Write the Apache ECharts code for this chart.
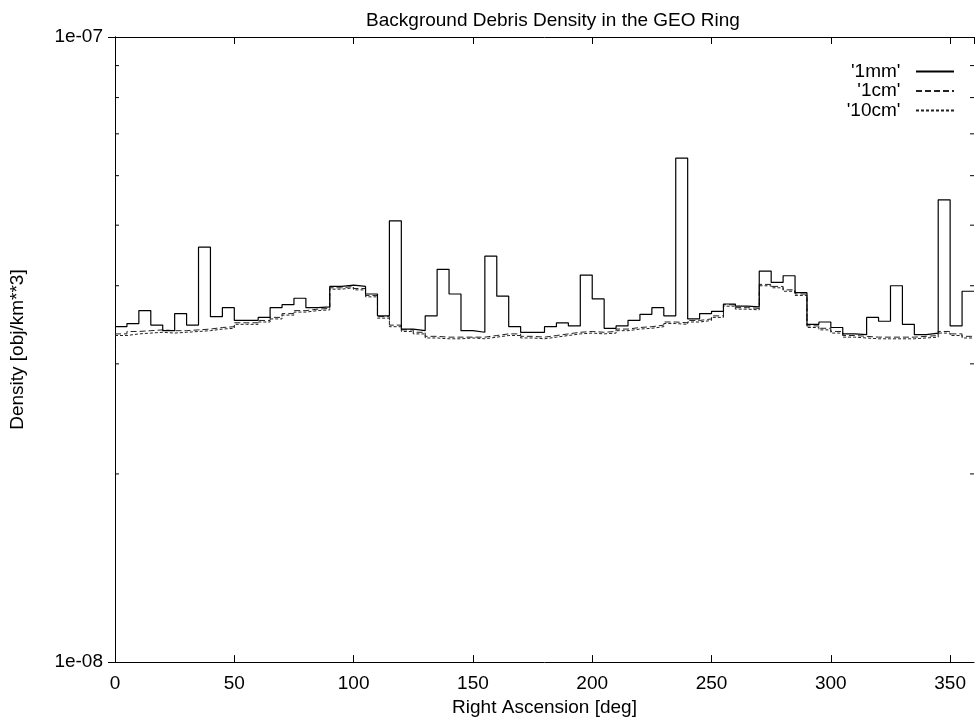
<!DOCTYPE html>
<html>
<head>
<meta charset="utf-8">
<script src="https://cdn.jsdelivr.net/npm/echarts@6/dist/echarts.min.js"></script>
<style>
  html, body { margin: 0; padding: 0; background: #fff; }
  #chart { width: 978px; height: 722px; }
</style>
</head>
<body>
<div id="chart"></div>
<script>
// bin start in deg (5 deg bins), values in units of 1e-8 obj/km^3
const binWidth = 5
const mm1 = [3.44, 3.48, 3.65, 3.46, 3.39, 3.61, 3.46, 4.61, 3.57, 3.69,
  3.52, 3.52, 3.56, 3.69, 3.73, 3.82, 3.69, 3.70, 3.99, 4.01,
  3.99, 3.88, 3.58, 5.08, 3.41, 3.39, 3.58, 4.25, 3.88, 3.39,
  3.37, 4.46, 3.85, 3.44, 3.37, 3.37, 3.44, 3.49, 3.45, 4.16,
  3.81, 3.42, 3.45, 3.52, 3.60, 3.69, 3.58, 6.40, 3.54, 3.61,
  3.64, 3.74, 3.71, 3.70, 4.22, 4.05, 4.15, 3.90, 3.47, 3.50,
  3.43, 3.35, 3.34, 3.56, 3.51, 4.00, 3.47, 3.34, 3.36, 5.49,
  3.45, 3.92]
const cm1 = [3.35, 3.38, 3.39, 3.40, 3.39, 3.39, 3.40, 3.41, 3.43, 3.44,
  3.49, 3.49, 3.52, 3.56, 3.61, 3.65, 3.67, 3.68, 3.97, 3.99,
  3.96, 3.86, 3.57, 3.46, 3.40, 3.37, 3.32, 3.31, 3.31, 3.31,
  3.31, 3.33, 3.35, 3.35, 3.32, 3.31, 3.33, 3.35, 3.37, 3.38,
  3.37, 3.38, 3.41, 3.43, 3.44, 3.46, 3.50, 3.49, 3.52, 3.54,
  3.58, 3.73, 3.69, 3.68, 4.02, 3.99, 3.94, 3.88, 3.45, 3.42,
  3.38, 3.33, 3.32, 3.31, 3.31, 3.31, 3.31, 3.32, 3.33, 3.38,
  3.35, 3.32]
const cm10 = [3.33, 3.35, 3.36, 3.37, 3.36, 3.37, 3.38, 3.39, 3.41, 3.42,
  3.47, 3.47, 3.50, 3.54, 3.59, 3.63, 3.65, 3.66, 3.95, 3.97,
  3.94, 3.84, 3.55, 3.44, 3.38, 3.35, 3.30, 3.29, 3.29, 3.30,
  3.29, 3.31, 3.33, 3.33, 3.30, 3.29, 3.31, 3.33, 3.35, 3.36,
  3.35, 3.36, 3.39, 3.41, 3.42, 3.44, 3.48, 3.47, 3.50, 3.52,
  3.56, 3.71, 3.67, 3.66, 4.00, 3.97, 3.92, 3.86, 3.43, 3.40,
  3.36, 3.31, 3.30, 3.29, 3.29, 3.29, 3.29, 3.30, 3.31, 3.36,
  3.33, 3.30]
const yLabels = {'1e-08': 1e-8, '1e-07': 1e-7}
const minorTicks = [2e-8, 3e-8, 4e-8, 5e-8, 6e-8, 7e-8, 8e-8, 9e-8]

function steps(vals) {
  let pts = vals.map((v, i) => [i * binWidth, v * 1e-8])
  pts.push([vals.length * binWidth, vals[vals.length - 1] * 1e-8])
  return pts
}

const font = 'Liberation Sans, Arial, sans-serif'
const txt = {color: '#000', fontFamily: font, fontSize: 19}

function yFmt(v) {
  for (let k in yLabels) if (Math.abs(yLabels[k] - v) / v < 1e-6) return k
  return ''
}

let chart = echarts.init(document.getElementById('chart'))
chart.setOption({
  animation: false,
  backgroundColor: '#fff',
  title: {
    text: 'Background Debris Density in the GEO Ring',
    left: 548, top: 6, textAlign: 'center',
    textStyle: {color: '#000', fontFamily: font, fontSize: 19, fontWeight: 'normal'}
  },
  legend: {
    orient: 'vertical', right: 18, top: 57, align: 'right',
    itemWidth: 38, itemHeight: 14, itemGap: 0.5,
    itemStyle: {opacity: 0},
    formatter: name => name + '  ',
    textStyle: Object.assign({lineHeight: 19}, txt),
    data: ["'1mm'", "'1cm'", "'10cm'"]
  },
  grid: {left: 114, right: 4, top: 37, bottom: 55},
  xAxis: [{
    type: 'value', min: 0, max: 360, interval: 50,
    name: 'Right Ascension [deg]', nameLocation: 'middle', nameGap: 30,
    nameTextStyle: txt,
    axisLine: {lineStyle: {color: '#000', width: 1}},
    axisTick: {inside: true, length: 7, lineStyle: {color: '#000'}},
    axisLabel: Object.assign({margin: 12, showMaxLabel: false}, txt),
    splitLine: {show: false}
  }, {
    type: 'value', position: 'top', min: 0, max: 360, interval: 50,
    axisLine: {lineStyle: {color: '#000', width: 1}},
    axisTick: {inside: true, length: 7, lineStyle: {color: '#000'}},
    axisLabel: {show: false}, splitLine: {show: false}
  }],
  yAxis: [{
    type: 'log', logBase: 10, min: 1e-8, max: 1e-7,
    name: 'Density [obj/km**3]', nameLocation: 'middle', nameGap: 88,
    nameTextStyle: txt,
    axisLine: {lineStyle: {color: '#000', width: 1}},
    axisTick: {inside: true, length: 7, lineStyle: {color: '#000'}},
    axisLabel: Object.assign({margin: 12, formatter: yFmt}, txt),
    splitLine: {show: false}
  }, {
    type: 'log', logBase: 10, min: 1e-8, max: 1e-7, position: 'right',
    axisLine: {lineStyle: {color: '#000', width: 1}},
    axisTick: {inside: true, length: 7, lineStyle: {color: '#000'}},
    axisLabel: {show: false}, splitLine: {show: false}
  }],
  series: [{
    name: "'1mm'", type: 'line', step: 'end', symbol: 'none',
    data: steps(mm1), z: 4,
    lineStyle: {color: '#000', width: 1.2}, itemStyle: {color: '#000'}
  }, {
    name: "'1cm'", type: 'line', step: 'end', symbol: 'none',
    data: steps(cm1), z: 3,
    lineStyle: {color: '#222', width: 1, type: [6, 3]}, itemStyle: {color: '#222'}
  }, {
    name: "'10cm'", type: 'line', step: 'end', symbol: 'none',
    data: steps(cm10), z: 2,
    lineStyle: {color: '#222', width: 1, type: [3, 2]}, itemStyle: {color: '#222'}
  }, {
    // minor log ticks on left and right frame
    type: 'custom', silent: true,
    data: minorTicks.map(v => [0, v]),
    renderItem: function (params, api) {
      let cs = params.coordSys
      let y = api.coord([0, api.value(1)])[1]
      let st = {stroke: '#000', lineWidth: 1}
      return {type: 'group', children: [
        {type: 'line', shape: {x1: cs.x, y1: y, x2: cs.x + 4, y2: y}, style: st},
        {type: 'line', shape: {x1: cs.x + cs.width, y1: y, x2: cs.x + cs.width - 4, y2: y}, style: st}
      ]}
    }
  }]
})
</script>
</body>
</html>
